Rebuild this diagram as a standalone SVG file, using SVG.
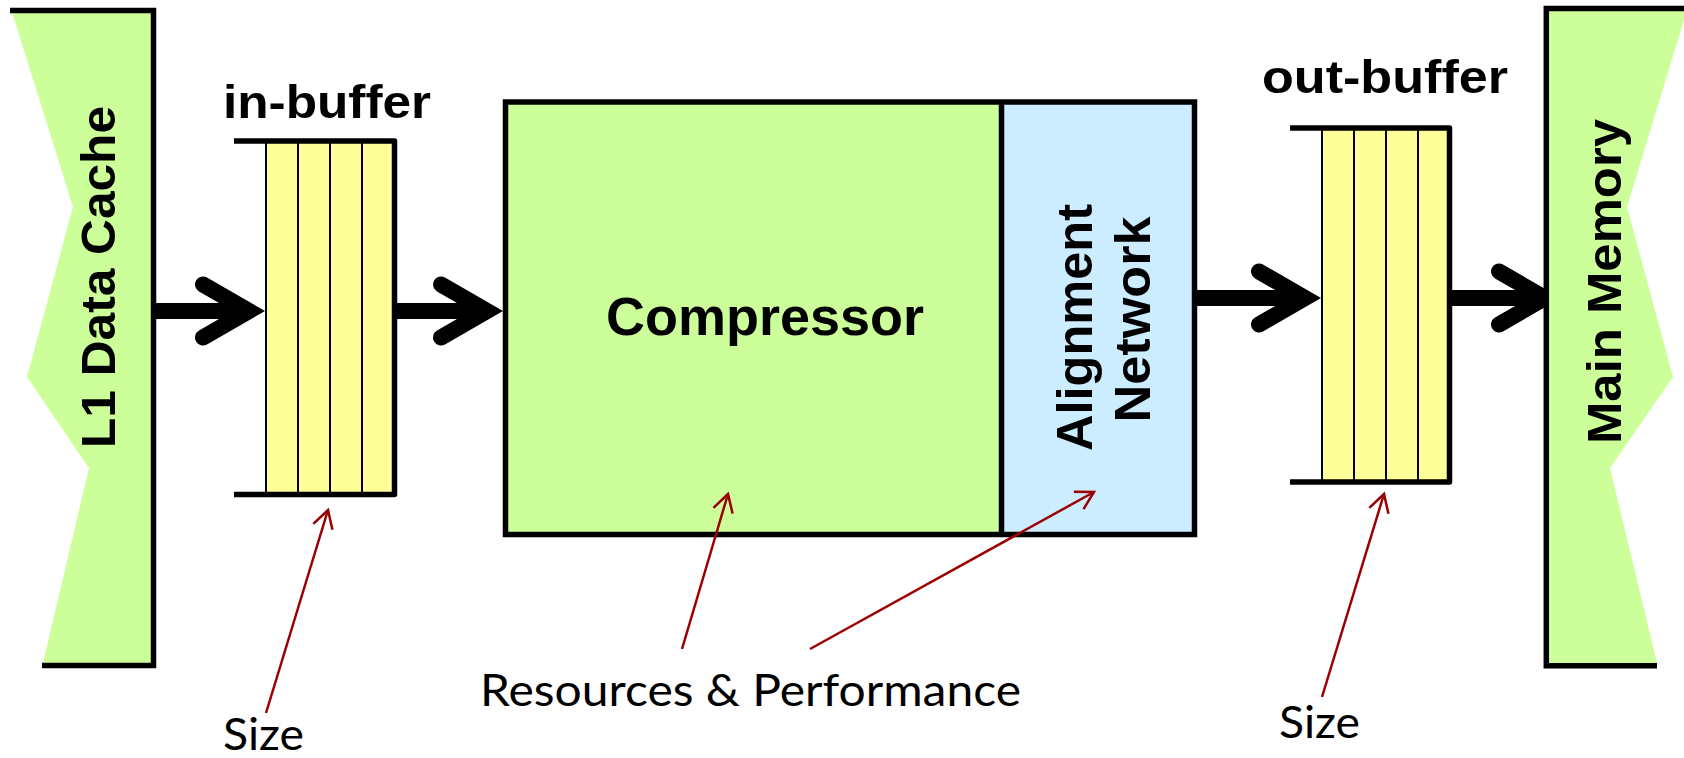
<svg xmlns="http://www.w3.org/2000/svg" width="1684" height="758" viewBox="0 0 1684 758">
  <style>
    .lbl { font-family: "Liberation Sans", Arial, sans-serif; font-weight: bold; fill: #000; }
    .note { font-family: Lato, "Liberation Sans", sans-serif; font-weight: normal; fill: #000; }
    .edge { fill: none; stroke: #000; stroke-width: 5.5; }
    .cell { stroke: #000; stroke-width: 2; }
    .flow { fill: none; stroke: #000; stroke-width: 16; }
    .flowhead { fill: none; stroke: #000; stroke-width: 16; stroke-linecap: round; stroke-linejoin: miter; stroke-miterlimit: 10; }
    .pointer { fill: none; stroke: #9C0000; stroke-width: 2.5; marker-end: url(#redhead); }
  </style>
  <defs>
    <marker id="redhead" markerUnits="userSpaceOnUse" viewBox="-20 -12 22 24" markerWidth="22" markerHeight="24" refX="0" refY="0" orient="auto" overflow="visible">
      <path d="M-17.5,-10 L0,0 L-17.5,10" fill="none" stroke="#9C0000" stroke-width="2.5"/>
    </marker>
  </defs>
  <rect width="1684" height="758" fill="#fff"/>

  <!-- data flow arrows -->
  <g id="connectors">
    <g id="flow-l1-inbuf">
      <line class="flow" x1="153" y1="311" x2="250" y2="311"/>
      <polyline class="flowhead" points="203,284.5 249,311 203,337.5"/>
    </g>
    <g id="flow-inbuf-comp">
      <line class="flow" x1="396" y1="311" x2="488" y2="311"/>
      <polyline class="flowhead" points="441,284.5 487,311 441,337.5"/>
    </g>
    <g id="flow-align-outbuf">
      <line class="flow" x1="1196" y1="298" x2="1306" y2="298"/>
      <polyline class="flowhead" points="1259,271.5 1305,298 1259,324.5"/>
    </g>
    <g id="flow-outbuf-mem">
      <line class="flow" x1="1451" y1="298" x2="1546" y2="298"/>
      <polyline class="flowhead" points="1499,271.5 1545,298 1499,324.5"/>
    </g>
  </g>

  <!-- L1 data cache -->
  <g id="l1-cache">
    <path d="M12,12 L73,207 L27,377 L89,468 L43,663 L153.5,663 L153.5,12 Z" fill="#CCFF99"/>
    <path class="edge" d="M10,10.5 H153.5 V665.5 H42"/>
    <text class="lbl" font-size="49" text-anchor="middle" transform="translate(115,277) rotate(-90)" textLength="342" lengthAdjust="spacingAndGlyphs">L1 Data Cache</text>
  </g>

  <!-- input buffer -->
  <g id="in-buffer">
    <rect x="266" y="143" width="127" height="349" fill="#FFFF99"/>
    <line class="cell" x1="266" y1="143" x2="266" y2="492"/>
    <line class="cell" x1="298" y1="143" x2="298" y2="492"/>
    <line class="cell" x1="330" y1="143" x2="330" y2="492"/>
    <line class="cell" x1="362" y1="143" x2="362" y2="492"/>
    <path class="edge" stroke-linejoin="round" d="M234,141 H394.5 V494.5 H234"/>
    <text class="lbl" x="223" y="118" font-size="46" textLength="208" lengthAdjust="spacingAndGlyphs">in-buffer</text>
  </g>

  <!-- compressor with alignment network -->
  <g id="compressor">
    <rect x="505.5" y="102" width="496" height="432.5" fill="#CCFF99"/>
    <text class="lbl" x="606" y="335" font-size="53" textLength="318" lengthAdjust="spacingAndGlyphs">Compressor</text>
  </g>
  <g id="alignment-network">
    <rect x="1001.5" y="102" width="193" height="432.5" fill="#CCECFF"/>
    <text class="lbl" font-size="50" text-anchor="middle" transform="translate(1092,327.5) rotate(-90)" textLength="247" lengthAdjust="spacingAndGlyphs">Alignment</text>
    <text class="lbl" font-size="50" text-anchor="middle" transform="translate(1150,319.5) rotate(-90)" textLength="206" lengthAdjust="spacingAndGlyphs">Network</text>
  </g>
  <g id="compressor-frame">
    <rect class="edge" x="505.5" y="102" width="689" height="432.5"/>
    <line class="edge" x1="1001.5" y1="102" x2="1001.5" y2="534.5" stroke-width="5"/>
  </g>

  <!-- output buffer -->
  <g id="out-buffer">
    <rect x="1322" y="130" width="126" height="350" fill="#FFFF99"/>
    <line class="cell" x1="1322" y1="130" x2="1322" y2="480"/>
    <line class="cell" x1="1354" y1="130" x2="1354" y2="480"/>
    <line class="cell" x1="1386" y1="130" x2="1386" y2="480"/>
    <line class="cell" x1="1418" y1="130" x2="1418" y2="480"/>
    <path class="edge" stroke-linejoin="round" d="M1290,128 H1449.5 V482 H1290"/>
    <text class="lbl" x="1262" y="93" font-size="46" textLength="246" lengthAdjust="spacingAndGlyphs">out-buffer</text>
  </g>

  <!-- main memory -->
  <g id="main-memory">
    <path d="M1546,10 L1687,10 L1627,207 L1673,377 L1610,468 L1657,663 L1546,663 Z" fill="#CCFF99"/>
    <path class="edge" d="M1684,8.5 H1546.3 V665.8 H1657"/>
    <text class="lbl" font-size="49" text-anchor="middle" transform="translate(1621,281.5) rotate(-90)" textLength="325" lengthAdjust="spacingAndGlyphs">Main Memory</text>
  </g>

  <!-- annotations -->
  <g id="annotations">
    <line class="pointer" x1="266" y1="713" x2="328" y2="510"/>
    <line class="pointer" x1="682" y1="649" x2="728" y2="494"/>
    <line class="pointer" x1="810" y1="649" x2="1094" y2="492"/>
    <line class="pointer" x1="1322" y1="697" x2="1384" y2="494"/>
    <text class="note" x="223" y="750" font-size="44" textLength="81" lengthAdjust="spacingAndGlyphs">Size</text>
    <text class="note" x="1279" y="738" font-size="45" textLength="81" lengthAdjust="spacingAndGlyphs">Size</text>
    <text class="note" x="480" y="706" font-size="45" textLength="541" lengthAdjust="spacingAndGlyphs">Resources &amp; Performance</text>
  </g>
</svg>
